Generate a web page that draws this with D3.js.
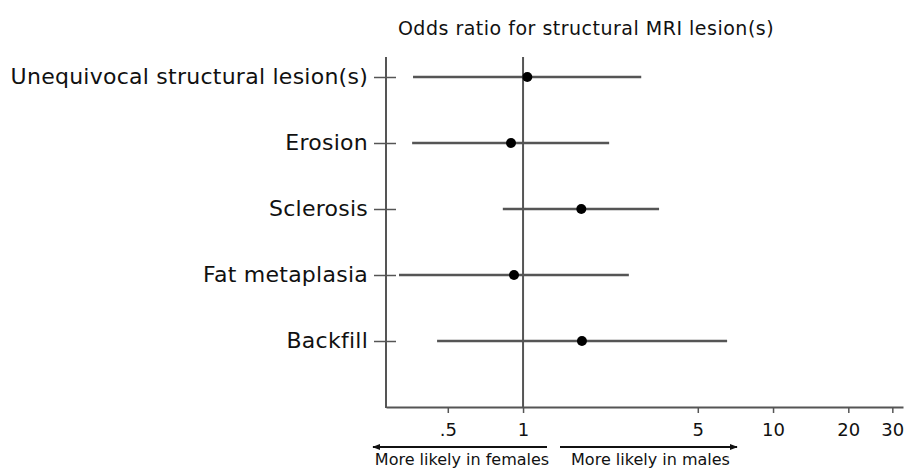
<!DOCTYPE html>
<html>
<head>
<meta charset="utf-8">
<script src="https://cdn.jsdelivr.net/npm/d3@7"></script>
<style>
  body { margin: 0; background: #fff; }
  svg { font-family: "DejaVu Sans", sans-serif; }
</style>
</head>
<body>
<svg id="svg" width="906" height="473"></svg>
<script>
const width = 906;
const height = 473;

// data
const categories = [
	'Unequivocal structural lesion(s)',
	'Erosion',
	'Sclerosis',
	'Fat metaplasia',
	'Backfill'
];
const oddsRatio = [1.04, 0.895, 1.71, 0.92, 1.72];
const ciLow = [0.363, 0.36, 0.83, 0.319, 0.453];
const ciHigh = [2.97, 2.21, 3.50, 2.65, 6.55];
const tickValues = [0.5, 1, 5, 10, 20, 30];
const tickLabels = ['.5', '1', '5', '10', '20', '30'];

const title = 'Odds ratio for structural MRI lesion(s)';
const leftNote = 'More likely in females';
const rightNote = 'More likely in males';

const lineColor = '#555';
const textColor = '#111';
const fontFamily = '"DejaVu Sans", sans-serif';
const axisTop = 57;
const axisBottom = 407;

const rows = categories.map((c, i) => ({
	name: c,
	or: oddsRatio[i],
	lo: ciLow[i],
	hi: ciHigh[i]
}));

const svg = d3.select('#svg');

const xScale = d3.scaleLog()
	.domain([0.283, 33.1])
	.range([386, 903]);

const yScale = d3.scalePoint()
	.domain(categories)
	.range([77, 341]);

// title
svg.append('text')
	.attr('x', 586)
	.attr('y', 35)
	.attr('text-anchor', 'middle')
	.attr('font-size', 19)
	.attr('letter-spacing', 0.5)
	.attr('fill', textColor)
	.text(title);

// x axis
const xAxis = d3.axisBottom(xScale)
	.tickValues(tickValues)
	.tickFormat((d, i) => tickLabels[i])
	.tickSize(6)
	.tickSizeOuter(0)
	.tickPadding(10);

const gx = svg.append('g')
	.attr('class', 'x-axis-group')
	.attr('transform', 'translate(0,' + axisBottom + ')')
	.call(xAxis);
gx.select('.domain').attr('stroke', lineColor).attr('stroke-width', 2);
gx.selectAll('.tick line').attr('stroke', lineColor).attr('stroke-width', 1.5);
gx.selectAll('.tick text')
	.attr('font-size', 18)
	.attr('font-family', fontFamily)
	.attr('fill', textColor);

// y axis (ticks cross the line)
const yAxis = d3.axisLeft(yScale)
	.tickSize(12)
	.tickPadding(6);

const gy = svg.append('g')
	.attr('class', 'y-axis-group')
	.attr('transform', 'translate(386,0)')
	.call(yAxis);
gy.select('.domain').remove();
gy.selectAll('.tick line')
	.attr('x1', 10)
	.attr('stroke', lineColor)
	.attr('stroke-width', 1.5);
gy.selectAll('.tick text')
	.attr('font-size', 22)
	.attr('letter-spacing', 0.25)
	.attr('dy', '0.3em')
	.attr('font-family', fontFamily)
	.attr('fill', textColor);

svg.append('line')
	.attr('x1', 386).attr('x2', 386)
	.attr('y1', axisTop).attr('y2', axisBottom + 1)
	.attr('stroke', lineColor)
	.attr('stroke-width', 2);

// reference line at 1
svg.append('line')
	.attr('x1', xScale(1)).attr('x2', xScale(1))
	.attr('y1', axisTop).attr('y2', axisBottom)
	.attr('stroke', lineColor)
	.attr('stroke-width', 2);

// confidence intervals
svg.selectAll(null)
	.data(rows)
	.enter()
	.append('line')
	.attr('x1', d => xScale(d.lo))
	.attr('x2', d => xScale(d.hi))
	.attr('y1', d => yScale(d.name))
	.attr('y2', d => yScale(d.name))
	.attr('stroke', lineColor)
	.attr('stroke-width', 2.5);

svg.selectAll(null)
	.data(rows)
	.enter()
	.append('circle')
	.attr('cx', d => xScale(d.or))
	.attr('cy', d => yScale(d.name))
	.attr('r', 5)
	.attr('fill', '#000');

// direction arrows
const defs = svg.append('defs');
defs.append('marker')
	.attr('id', 'head')
	.attr('viewBox', '0 0 10 10')
	.attr('refX', 9)
	.attr('refY', 5)
	.attr('markerWidth', 8)
	.attr('markerHeight', 8)
	.attr('markerUnits', 'userSpaceOnUse')
	.attr('orient', 'auto')
	.append('path')
	.attr('d', 'M0,1L10,5L0,9Z')
	.attr('fill', textColor);

const arrowY = 447;
const arrows = [
	{ from: 547, to: 373, label: leftNote },
	{ from: 560, to: 737, label: rightNote }
];

svg.selectAll(null)
	.data(arrows)
	.enter()
	.append('line')
	.attr('x1', d => d.from)
	.attr('x2', d => d.to)
	.attr('y1', arrowY)
	.attr('y2', arrowY)
	.attr('stroke', textColor)
	.attr('stroke-width', 2)
	.attr('marker-end', 'url(#head)');

svg.selectAll(null)
	.data(arrows)
	.enter()
	.append('text')
	.attr('x', d => (d.from + d.to) / 2 + 2)
	.attr('y', 465)
	.attr('text-anchor', 'middle')
	.attr('font-size', 16)
	.attr('fill', textColor)
	.text(d => d.label);
</script>
</body>
</html>
